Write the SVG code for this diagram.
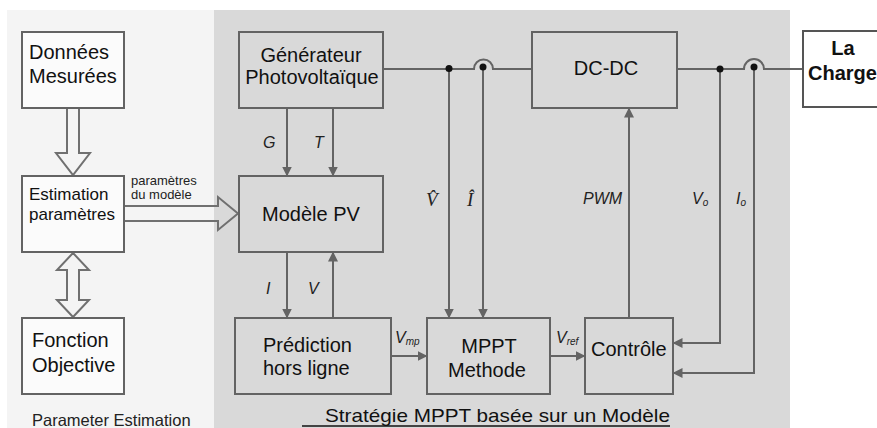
<svg xmlns="http://www.w3.org/2000/svg" width="877" height="428" viewBox="0 0 877 428">
<style>
.box{stroke:#636363;stroke-width:2}
.wb{fill:#fbfbfb}
.gb{fill:#d9d9d9}
.t{font-family:"Liberation Sans",Arial,sans-serif;font-size:20px;fill:#111}
.lb{font-family:"Liberation Sans",Arial,sans-serif;font-size:16px;font-style:italic;fill:#222}
.sub{font-size:10px}
.ln{fill:none;stroke:#646464;stroke-width:2}
.hol{fill:none;stroke:#707070;stroke-width:2;stroke-linejoin:miter}
.dot{fill:#111}
</style>
<defs>
<marker id="ah" viewBox="0 0 10 10" refX="9.5" refY="5" markerWidth="10" markerHeight="10" markerUnits="userSpaceOnUse" orient="auto">
<path d="M0,0 L10,5 L0,10 z" fill="#646464"/>
</marker>
</defs>
<rect x="0" y="0" width="877" height="428" fill="#ffffff"/>
<rect x="7" y="10" width="207" height="418" fill="#f4f4f4"/>
<rect x="214" y="10" width="576" height="418" fill="#d9d9d9"/>

<g id="connectors">
<polygon class="hol" points="67,108 79,108 79,153 90,153 73,175 56,153 67,153" fill="#f4f4f4"/>
<polygon class="hol" points="73,253 89,270 79,270 79,300 89,300 73,317 57,300 67,300 67,270 57,270" fill="#f4f4f4"/>
<polyline class="hol" points="124,206 218,206 218,197 238,213.5 218,230 218,221 124,221"/>
<path class="ln" d="M383,69 H474 A9.5,9.5 0 0 1 493,69 H532"/>
<path class="ln" d="M677,69 H744 A10,10 0 0 1 764,69 H803"/>
<path class="ln" d="M449,69 V318" marker-end="url(#ah)"/>
<path class="ln" d="M483,67 V318" marker-end="url(#ah)"/>
<path class="ln" d="M287,108 V176" marker-end="url(#ah)"/>
<path class="ln" d="M333,108 V176" marker-end="url(#ah)"/>
<path class="ln" d="M287,252 V318" marker-end="url(#ah)"/>
<path class="ln" d="M333,318 V252" marker-end="url(#ah)"/>
<path class="ln" d="M391,356 H427" marker-end="url(#ah)"/>
<path class="ln" d="M550,356 H585" marker-end="url(#ah)"/>
<path class="ln" d="M629,318 V108" marker-end="url(#ah)"/>
<path class="ln" d="M720,69 V343 H673" marker-end="url(#ah)"/>
<path class="ln" d="M754,67 V373 H673" marker-end="url(#ah)"/>
<circle class="dot" cx="449" cy="68.5" r="3.5"/>
<circle class="dot" cx="483" cy="67" r="3.5"/>
<circle class="dot" cx="720" cy="69" r="3.5"/>
<circle class="dot" cx="754" cy="67" r="3.5"/>
<text class="lb" x="263" y="148">G</text>
<text class="lb" x="314" y="148">T</text>
<text class="lb" x="266" y="294">I</text>
<text class="lb" x="308" y="294">V</text>
<text class="lb" x="583" y="204">PWM</text>
<text class="lb" x="692" y="204">V<tspan class="sub" dy="2">o</tspan></text>
<text class="lb" x="736" y="204">I<tspan class="sub" dy="2">o</tspan></text>
<text class="lb" x="395" y="343">V<tspan class="sub" dy="2">mp</tspan></text>
<text class="lb" x="556" y="343">V<tspan class="sub" dy="2">ref</tspan></text>
<text x="426" y="206" font-family="'Liberation Serif',serif" font-style="italic" font-size="19" fill="#222">V̂</text>
<text x="467" y="206" font-family="'Liberation Serif',serif" font-style="italic" font-size="19" fill="#222">Î</text>
<text x="131" y="185" font-family="'Liberation Sans',Arial,sans-serif" font-size="13" fill="#222">paramètres</text>
<text x="131" y="199" font-family="'Liberation Sans',Arial,sans-serif" font-size="13" fill="#222">du modèle</text>
</g>

<g id="donnees">
<rect class="box wb" x="22" y="32" width="102" height="76"/>
<text class="t" x="29" y="59">Données</text>
<text class="t" x="29" y="83">Mesurées</text>
</g>
<g id="estimation">
<rect class="box wb" x="22" y="176" width="102" height="76"/>
<text class="t" x="29" y="200" style="font-size:17px">Estimation</text>
<text class="t" x="29" y="220" style="font-size:17px">paramètres</text>
</g>
<g id="fonction">
<rect class="box wb" x="22" y="318" width="102" height="76"/>
<text class="t" x="32" y="347">Fonction</text>
<text class="t" x="32" y="372">Objective</text>
</g>
<g id="generateur">
<rect class="box gb" x="239" y="32" width="144" height="76"/>
<text class="t" x="311" y="62" text-anchor="middle">Générateur</text>
<text class="t" x="312" y="84" text-anchor="middle">Photovoltaïque</text>
</g>
<g id="modele">
<rect class="box gb" x="239" y="176" width="144" height="76"/>
<text class="t" x="311" y="221" text-anchor="middle">Modèle PV</text>
</g>
<g id="prediction">
<rect class="box gb" x="235" y="318" width="156" height="76"/>
<text class="t" x="263" y="352">Prédiction</text>
<text class="t" x="263" y="375">hors ligne</text>
</g>
<g id="mppt">
<rect class="box gb" x="427" y="318" width="123" height="76"/>
<text class="t" x="489" y="353" text-anchor="middle">MPPT</text>
<text class="t" x="487" y="377" text-anchor="middle">Methode</text>
</g>
<g id="controle">
<rect class="box gb" x="585" y="318" width="88" height="76"/>
<text class="t" x="591" y="356">Contrôle</text>
</g>
<g id="dcdc">
<rect class="box gb" x="532" y="32" width="145" height="76"/>
<text class="t" x="606" y="75" text-anchor="middle">DC-DC</text>
</g>
<g id="charge">
<rect x="803" y="31" width="80" height="76" fill="#fff" stroke="#555" stroke-width="2"/>
<text class="t" x="843" y="55" text-anchor="middle" font-weight="bold">La</text>
<text class="t" x="808" y="80" font-weight="bold">Charge</text>
</g>

<text x="32" y="426" font-family="'Liberation Sans',Arial,sans-serif" font-size="16.5" fill="#222">Parameter Estimation</text>
<text x="325" y="422" font-family="'Liberation Sans',Arial,sans-serif" font-size="19" fill="#111" textLength="345" lengthAdjust="spacingAndGlyphs">Stratégie MPPT basée sur un Modèle</text>
<line x1="302" y1="426" x2="670" y2="426" stroke="#111" stroke-width="1.5"/>
</svg>
